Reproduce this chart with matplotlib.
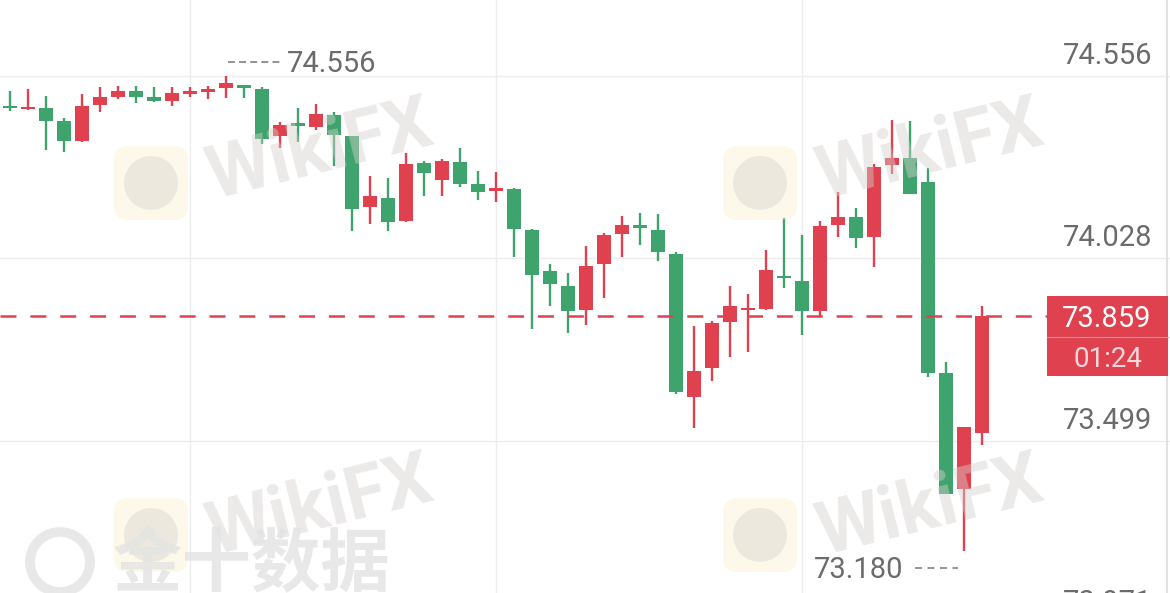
import matplotlib.pyplot as plt
import numpy as np
from matplotlib.patches import Circle, FancyBboxPatch, Rectangle

plt.rcParams["font.family"] = ["Roboto", "DejaVu Sans"]
plt.rcParams["lines.scale_dashes"] = False

# candles, oldest first (red = up, green = down)
opens = [
    74.465, 74.461, 74.462, 74.426, 74.368, 74.472, 74.495, 74.513, 74.495, 74.482,
    74.505, 74.510, 74.520, 74.527, 74.517, 74.382, 74.418, 74.407, 74.442, 74.382,
    74.177, 74.201, 74.136, 74.303, 74.254, 74.307, 74.242, 74.223, 74.227, 74.109,
    73.991, 73.948, 73.878, 74.010, 74.097, 74.124, 74.109, 74.040, 73.627, 73.709,
    73.842, 73.878, 73.880, 73.976, 73.963, 73.876, 74.124, 74.148, 74.088, 74.296,
    74.317, 74.249, 73.695, 73.359, 73.522,
]
highs = [
    74.513, 74.518, 74.497, 74.433, 74.502, 74.523, 74.527, 74.527, 74.523, 74.523,
    74.524, 74.526, 74.556, 74.527, 74.524, 74.423, 74.462, 74.474, 74.452, 74.382,
    74.266, 74.259, 74.333, 74.310, 74.314, 74.346, 74.281, 74.276, 74.230, 74.112,
    74.011, 73.986, 74.063, 74.100, 74.151, 74.158, 74.156, 74.045, 73.830, 73.847,
    73.947, 73.923, 74.052, 74.143, 74.095, 74.136, 74.220, 74.174, 74.300, 74.428,
    74.426, 74.288, 73.728, 73.538, 73.890,
]
lows = [
    74.455, 74.458, 74.341, 74.336, 74.365, 74.451, 74.488, 74.476, 74.479, 74.469,
    74.494, 74.488, 74.491, 74.491, 74.358, 74.346, 74.365, 74.399, 74.295, 74.107,
    74.127, 74.107, 74.133, 74.208, 74.209, 74.235, 74.196, 74.191, 74.030, 73.822,
    73.890, 73.810, 73.833, 73.912, 74.032, 74.066, 74.021, 73.636, 73.535, 73.672,
    73.743, 73.756, 73.878, 73.941, 73.806, 73.858, 74.090, 74.058, 74.003, 74.271,
    74.214, 73.685, 73.345, 73.180, 73.486,
]
closes = [
    74.464, 74.465, 74.426, 74.368, 74.469, 74.494, 74.513, 74.495, 74.482, 74.507,
    74.510, 74.518, 74.534, 74.522, 74.372, 74.413, 74.410, 74.445, 74.384, 74.169,
    74.208, 74.133, 74.300, 74.274, 74.309, 74.243, 74.220, 74.230, 74.112, 73.979,
    73.952, 73.875, 74.006, 74.095, 74.124, 74.114, 74.047, 73.639, 73.702, 73.839,
    73.889, 73.884, 73.994, 73.971, 73.876, 74.121, 74.146, 74.087, 74.291, 74.319,
    74.214, 73.696, 73.345, 73.538, 73.859,
]

grid_levels = [74.556, 74.028, 73.499, 72.971]
grid_labels = ["74.556", "74.028", "73.499", "72.971"]
vgrid_idx = [10, 27, 44]
last_price = 73.859
countdown = "01:24"
high_idx, high_val = 12, 74.556
low_idx, low_val = 53, 73.180

UP = "#e0414f"
DOWN = "#3fa36e"
GRID = "#ececec"
LABEL = "#6b6b6b"

W, H = 1170, 593
fig = plt.figure(figsize=(W / 100, H / 100), dpi=100)
ax = fig.add_axes([0, 0, 1, 1])
ax.axis("off")

ppu = 345.5  # pixels per price unit
ymax = 74.775
ymin = ymax - H / ppu
ax.set_ylim(ymin, ymax)
ax.set_xlim(-10 / 18, (W - 10) / 18)

# grid
for lv in grid_levels:
    ax.axhline(lv, color=GRID, lw=1.0, zorder=1)
for i in vgrid_idx:
    ax.axvline(i, color=GRID, lw=1.0, zorder=1)
ax.plot([1167 / W] * 2, [0, 1], transform=ax.transAxes, color="#dcdcdc", lw=1.2)

# candles
x = np.arange(len(opens))
o, h, l, c = map(np.array, (opens, highs, lows, closes))
colors = np.where(c >= o, UP, DOWN)
ax.vlines(x, l, h, colors=colors, lw=1.7, zorder=3)
body = np.maximum(np.abs(c - o), 2.4 / ppu)
mid = (o + c) / 2
ax.bar(x, body, bottom=mid - body / 2, width=0.78, color=colors, lw=0, zorder=4)

# last price line + box
yax = ax.get_yaxis_transform()
ax.axhline(last_price, xmax=1047 / W, color=UP, lw=1.8, dashes=(11.5, 10), zorder=5)
ax.add_patch(Rectangle((1047 / W, last_price - 60 / ppu), 121 / W, 80 / ppu,
                       transform=yax, facecolor=UP, edgecolor="none", zorder=6))
ax.plot([1047 / W, 1168 / W], [last_price - 20.5 / ppu] * 2, transform=yax,
        color="#ef8a94", lw=0.8, zorder=7)
ax.text(1151 / W, last_price - 11 / ppu, f"{last_price:.3f}", transform=yax,
        ha="right", va="baseline", fontsize=21, color="white", zorder=8)
ax.text(1108 / W, last_price - 51 / ppu, countdown, transform=yax,
        ha="center", va="baseline", fontsize=20, color="#fbd7db", zorder=8)

# price axis labels
for lv, lab in zip(grid_levels, grid_labels):
    ax.text(1152 / W, lv + 12 / ppu, lab, transform=yax, ha="right",
            va="baseline", fontsize=21, color=LABEL, zorder=6)

# high / low markers
ax.plot([high_idx + 0.1, high_idx + 3.1], [high_val + 14 / ppu] * 2,
        color="#8a8a8a", lw=1.3, dashes=(5, 3), zorder=6)
ax.text(high_idx + 61 / 18, high_val + 4 / ppu, f"{high_val:.3f}", ha="left",
        va="baseline", fontsize=21, color=LABEL, zorder=6)
ax.plot([low_idx - 2.7, low_idx - 0.35], [low_val - 17 / ppu] * 2,
        color="#8a8a8a", lw=1.3, dashes=(5, 4), zorder=6)
ax.text(low_idx - 61 / 18, low_val - 27 / ppu, f"{low_val:.3f}", ha="right",
        va="baseline", fontsize=21, color=LABEL, zorder=6)

# watermarks
wm = fig.add_axes([0, 0, 1, 1], zorder=5)
wm.set_xlim(0, W)
wm.set_ylim(H, 0)
wm.axis("off")
wm.patch.set_alpha(0)
for lx, ly, tx, ty in [(151, 183, 320, 152), (760, 183, 930, 152),
                       (151, 535, 320, 508), (760, 535, 930, 508)]:
    wm.add_patch(FancyBboxPatch((lx - 37, ly - 37), 74, 74,
                                boxstyle="round,pad=0,rounding_size=14",
                                facecolor="#fbeec4", edgecolor="none", alpha=0.35))
    wm.add_patch(Circle((lx, ly), 27, facecolor="#cfcac6", edgecolor="none", alpha=0.35))
    wm.text(tx, ty, "WikiFX", ha="center", va="center", fontsize=53,
            fontweight="bold", color="#d6d0cd", alpha=0.45, rotation=14)
wm.add_patch(Circle((60, 562), 30, facecolor="none", edgecolor="#e3e3e3", lw=7, alpha=0.8))
wm.text(252, 566, "金十数据", ha="center", va="center", fontsize=50, fontweight="bold",
        family=["Noto Sans CJK SC", "DejaVu Sans"], color="#e3e3e3", alpha=0.8)

fig.savefig("out.png", dpi=100, facecolor="white")
